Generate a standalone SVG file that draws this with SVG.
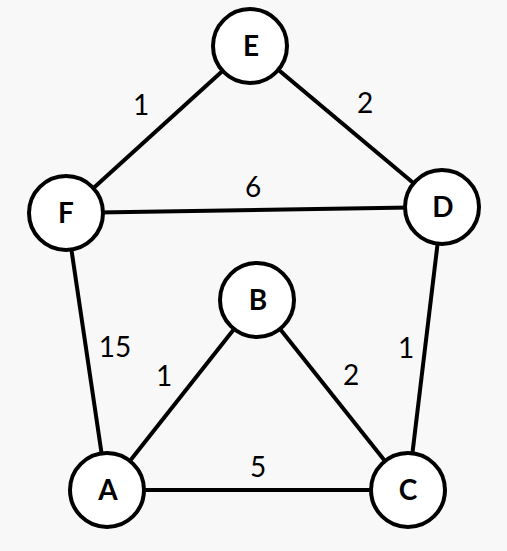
<svg xmlns="http://www.w3.org/2000/svg" width="507" height="551" viewBox="0 0 507 551">
<style>
.edge{stroke:#000;stroke-width:4;fill:none}
.node circle{fill:#fff;stroke:#000;stroke-width:4}
.node text{font-family:Lato,"Liberation Sans",sans-serif;font-weight:bold;font-size:28px;text-anchor:middle;fill:#000}
.lbl{font-family:Lato,"Liberation Sans",sans-serif;font-size:28px;text-anchor:middle;fill:#000}
</style>
<rect width="507" height="551" fill="#f8f8f8"/>
<g id="connectors">
<line class="edge" x1="250" y1="46" x2="66" y2="213"/>
<line class="edge" x1="250" y1="46" x2="442" y2="207"/>
<line class="edge" x1="66" y1="213" x2="442" y2="207"/>
<line class="edge" x1="66" y1="213" x2="107" y2="490"/>
<line class="edge" x1="442" y1="207" x2="408" y2="490"/>
<line class="edge" x1="257" y1="300" x2="107" y2="490"/>
<line class="edge" x1="257" y1="300" x2="408" y2="490"/>
<line class="edge" x1="107" y1="490" x2="408" y2="490"/>
<text class="lbl" x="141" y="115">1</text>
<text class="lbl" x="365" y="113">2</text>
<text class="lbl" x="253" y="197">6</text>
<text class="lbl" x="115" y="357">15</text>
<text class="lbl" x="164" y="386">1</text>
<text class="lbl" x="351" y="385">2</text>
<text class="lbl" x="406" y="358">1</text>
<text class="lbl" x="258" y="477">5</text>
</g>
<g id="E" class="node"><circle cx="250" cy="46" r="37"/><text x="251" y="56">E</text></g>
<g id="F" class="node"><circle cx="66" cy="213" r="37"/><text x="66" y="223">F</text></g>
<g id="D" class="node"><circle cx="442" cy="207" r="37"/><text x="443" y="217">D</text></g>
<g id="B" class="node"><circle cx="257" cy="300" r="37"/><text x="258" y="310">B</text></g>
<g id="A" class="node"><circle cx="107" cy="490" r="37"/><text x="108" y="500">A</text></g>
<g id="C" class="node"><circle cx="408" cy="490" r="37"/><text x="408" y="500">C</text></g>
</svg>
